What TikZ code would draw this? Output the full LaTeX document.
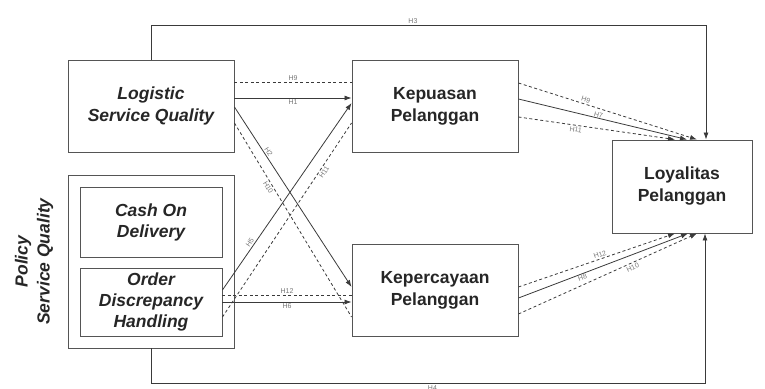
\documentclass[tikz,border=0pt]{standalone}
\usepackage{fontspec}
\setmainfont{Liberation Sans}
\usetikzlibrary{arrows.meta}

\definecolor{linegray}{HTML}{3A3A3A}
\definecolor{boxgray}{HTML}{555555}
\definecolor{lblgray}{HTML}{777777}

\tikzstyle{construct} = [rectangle,
minimum width=166pt,
minimum height=92pt,
align=center,
draw=boxgray,
line width=0.9pt,
text=black!85,
font=\fontsize{17.5}{22}\selectfont\bfseries]
\tikzstyle{dimension} = [rectangle,
minimum width=142pt,
align=center,
draw=boxgray,
line width=0.9pt,
text=black!85,
font=\fontsize{17.5}{21}\selectfont\bfseries\itshape]
\tikzstyle{lbl} = [font=\fontsize{7}{8}\selectfont, text=lblgray, inner sep=1.5pt]
\tikzstyle{effect} = [draw=linegray, line width=0.8pt, -{Latex[length=7pt,width=5pt]}]
\tikzstyle{link} = [draw=linegray, line width=0.8pt, dash pattern=on 3pt off 2.5pt]
\tikzstyle{dlink} = [link, -{Latex[length=7pt,width=5pt]}]

\begin{document}
\begin{tikzpicture}[x=1pt, y=-1pt, node distance=184pt]
\useasboundingbox (0,0) rectangle (765,388);

\node (lsq) [construct, font=\fontsize{17.5}{22}\selectfont\bfseries\itshape] at (151,106) {Logistic\\Service Quality};
\node (kep) [construct, right of=lsq, xshift=100pt] {Kepuasan\\Pelanggan};
\node (kpc) [construct, below of=kep] {Kepercayaan\\Pelanggan};
\node (psq) [rectangle, draw=boxgray, line width=0.9pt, minimum width=166pt, minimum height=173pt, below of=lsq, yshift=28.5pt] {};
\node (cod) [dimension, minimum height=70pt] at (151,222) {Cash On\\Delivery};
\node (odh) [dimension, minimum height=68pt] at (151,302) {Order\\Discrepancy\\Handling};
\node (psqlabel) [left of=psq, xshift=67pt, rotate=90, align=center, text=black!85,
  font=\fontsize{17.5}{22}\selectfont\bfseries\itshape] {Policy\\Service Quality};
\node (loy) [construct, minimum width=140pt, minimum height=93pt, right of=kep, xshift=63pt, yshift=-80.5pt] {Loyalitas\\Pelanggan};

% logistic service quality
\draw [link] ([yshift=24pt]lsq.east) -- node[lbl, above] {H9} ([yshift=24pt]kep.west);
\draw [effect] ([yshift=8pt]lsq.east) -- node[lbl, below] {H1} ([yshift=8pt]kep.west);
\draw [effect] ([yshift=-1pt]lsq.east) -- node[lbl, sloped, above, pos=0.26] {H2} ([yshift=3pt]kpc.west);
\draw [link] ([yshift=-17pt]lsq.east) -- node[lbl, sloped, below, pos=0.32] {H10} ([yshift=-27pt]kpc.west);

% policy service quality
\draw [effect] ([yshift=12pt]odh.east) -- node[lbl, sloped, above, pos=0.24] {H5} ([yshift=3pt]kep.west);
\draw [link] ([yshift=-15pt]odh.east) -- node[lbl, sloped, below, pos=0.76] {H11} ([yshift=-17pt]kep.west);
\draw [link] ([yshift=7pt]odh.east) -- node[lbl, above] {H12} ([yshift=-5pt]kpc.west);
\draw [effect] (odh.east) -- node[lbl, below] {H6} ([yshift=-12pt]kpc.west);

% to loyalitas
\draw [dlink] ([yshift=23pt]kep.east) -- node[lbl, sloped, above, pos=0.37] {H9} ([xshift=15pt]loy.north);
\draw [effect] ([yshift=7pt]kep.east) -- node[lbl, sloped, above, pos=0.47, inner sep=0.5pt] {H7} ([xshift=5pt]loy.north);
\draw [dlink] ([yshift=-11pt]kep.east) -- node[lbl, sloped, below, pos=0.37] {H11} ([xshift=-7pt]loy.north);
\draw [dlink] ([yshift=3pt]kpc.east) -- node[lbl, sloped, above, pos=0.53] {H12} ([xshift=-7pt]loy.south);
\draw [effect] ([yshift=-8pt]kpc.east) -- node[lbl, sloped, below, pos=0.37, inner sep=0.5pt] {H8} ([xshift=6pt]loy.south);
\draw [dlink] ([yshift=-24pt]kpc.east) -- node[lbl, sloped, below, pos=0.63] {H10} ([xshift=15pt]loy.south);

\draw [effect] (lsq.north) -- ++(0,-34) -| node[lbl, above, pos=0.236] {H3} ([xshift=24pt]loy.north);
\draw [effect] (psq.south) -- ++(0,35) -| node[lbl, below, pos=0.254] {H4} ([xshift=23pt]loy.south);
\end{tikzpicture}
\end{document}
